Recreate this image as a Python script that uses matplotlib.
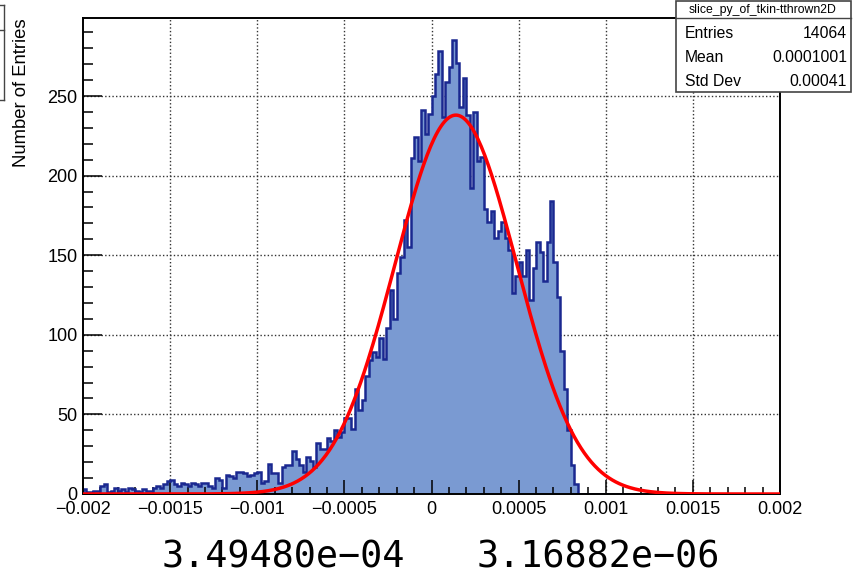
import numpy as np
import matplotlib
matplotlib.use("Agg")
import matplotlib.pyplot as plt
from matplotlib.patches import Rectangle
from matplotlib.lines import Line2D
from matplotlib.ticker import MultipleLocator, FuncFormatter

plt.rcParams['font.family'] = ['Liberation Sans', 'DejaVu Sans']

# histogram: 200 bins between -0.002 and 0.002
x_min, x_max, n_bins = -0.002, 0.002, 200
counts = [
    3, 1, 1, 2, 2, 5, 6, 1, 2, 4, 2, 3, 1, 4, 3, 2, 1, 3, 2, 2,
    4, 5, 4, 6, 8, 9, 6, 5, 7, 6, 5, 7, 6, 5, 7, 7, 5, 4, 10, 9,
    4, 12, 11, 10, 14, 14, 13, 11, 12, 13,
    14, 7, 8, 19, 13, 13, 7, 17, 18, 18, 27, 22, 18, 14, 23, 21, 17, 32, 28, 28,
    35, 33, 40, 36, 39, 48, 48, 41, 66, 53, 59, 74, 84, 89, 86,
    98, 85, 104, 128, 110, 139, 149, 172, 155,
    211, 224, 209, 241, 226, 239, 250, 264, 278, 237,
    259, 268, 285, 271, 243, 261, 238, 192, 240, 209, 212, 179, 171, 178, 161,
    165, 171, 161,
    153, 126, 137, 146, 137, 153, 122, 142, 158, 152, 134, 158, 184, 146, 124,
    90, 66, 40, 18, 6,
] + [0] * 58

# gaussian fit parameters
fit_const = 238.0
fit_mean = 1.4e-4
fit_sigma = 3.49480e-04
fit_sigma_err = 3.16882e-06

stats_title = 'slice_py_of_tkin-tthrown2D'
stats_rows = [('Entries', '14064'), ('Mean', '0.0001001'), ('Std Dev', '0.00041')]

edges = np.linspace(x_min, x_max, n_bins + 1)

fig = plt.figure(figsize=(8.59, 5.85), dpi=100)
ax = fig.add_axes([83 / 859, 1 - 494 / 585, 697 / 859, 476 / 585])

fill_col = '#7a9ad2'
line_col = '#1a2890'
ax.stairs(counts, edges, fill=True, color=fill_col, zorder=1)
ax.stairs(counts, edges, color=line_col, linewidth=1.8, zorder=2)

xf = np.linspace(x_min, x_max, 400)
yf = fit_const * np.exp(-0.5 * ((xf - fit_mean) / fit_sigma) ** 2)
ax.plot(xf, yf, color='#ff0000', linewidth=2.5, zorder=3)

ax.set_xlim(x_min, x_max)
ax.set_ylim(0, 299)

# dotted grid behind the histogram
for gx in np.arange(-0.0015, 0.0016, 0.0005):
    ax.axvline(gx, color='#333333', linestyle=(0, (1, 1.6)), linewidth=1, zorder=0.5)
for gy in range(50, 300, 50):
    ax.axhline(gy, color='#333333', linestyle=(0, (1, 1.6)), linewidth=1, zorder=0.5)

ax.xaxis.set_major_locator(MultipleLocator(0.0005))
ax.xaxis.set_minor_locator(MultipleLocator(0.0001))
ax.yaxis.set_major_locator(MultipleLocator(50))
ax.yaxis.set_minor_locator(MultipleLocator(10))


def xfmt(v, pos):
    if abs(v) < 1e-12:
        return '0'
    s = ('%.4f' % v).rstrip('0').rstrip('.')
    return s.replace('-', '\u2212')


ax.xaxis.set_major_formatter(FuncFormatter(xfmt))

ax.tick_params(axis='both', which='both', direction='in', top=False, right=False,
               width=1.1, colors='black', labelsize=13)
ax.tick_params(axis='x', which='major', length=10, pad=5)
ax.tick_params(axis='x', which='minor', length=5)
ax.tick_params(axis='y', which='major', length=14, pad=4)
ax.tick_params(axis='y', which='minor', length=7)
for sp in ax.spines.values():
    sp.set_linewidth(1.4)

ax.set_ylabel('Number of Entries', fontsize=13.3, loc='top')
ax.yaxis.set_label_coords(-0.076, 1.0)

# stats box
bx0, bx1 = 676 / 859, 851 / 859
by_top, by_sep, by_bot = 1 - 1 / 585, 1 - 18.3 / 585, 1 - 92 / 585
fig.patches.append(Rectangle((bx0, by_bot), bx1 - bx0, by_top - by_bot,
                             transform=fig.transFigure, facecolor='white',
                             edgecolor='#444444', linewidth=1.2, zorder=5))
fig.lines.append(Line2D([bx0, bx1], [by_sep, by_sep], transform=fig.transFigure,
                        color='#444444', linewidth=1.0, zorder=6))
fig.text(763 / 859, 1 - 10 / 585, stats_title, fontsize=8.8, ha='center', va='center', zorder=7)
for k, (lab, val) in enumerate(stats_rows):
    yy = 1 - (34 + 23.5 * k) / 585
    fig.text(685 / 859, yy, lab, fontsize=11.3, ha='left', va='center', zorder=7)
    fig.text(847 / 859, yy, val, fontsize=11.3, ha='right', va='center', zorder=7)

# partially visible box at the left edge
for yy in (5, 30, 100):
    fig.lines.append(Line2D([0, 4 / 859], [1 - yy / 585, 1 - yy / 585],
                            transform=fig.transFigure, color='#444444', linewidth=1.0))
fig.lines.append(Line2D([4 / 859, 4 / 859], [1 - 5 / 585, 1 - 100 / 585],
                        transform=fig.transFigure, color='#444444', linewidth=1.0))

# fit result printed below the plot
fig.text(162 / 859, 1 - 568 / 585, ('%.5e' % fit_sigma).replace('-', '\u2212'), fontsize=26.5,
         family='DejaVu Sans Mono', ha='left', va='baseline')
fig.text(477 / 859, 1 - 568 / 585, ('%.5e' % fit_sigma_err).replace('-', '\u2212'), fontsize=26.5,
         family='DejaVu Sans Mono', ha='left', va='baseline')

fig.savefig('out.png', dpi=100)
